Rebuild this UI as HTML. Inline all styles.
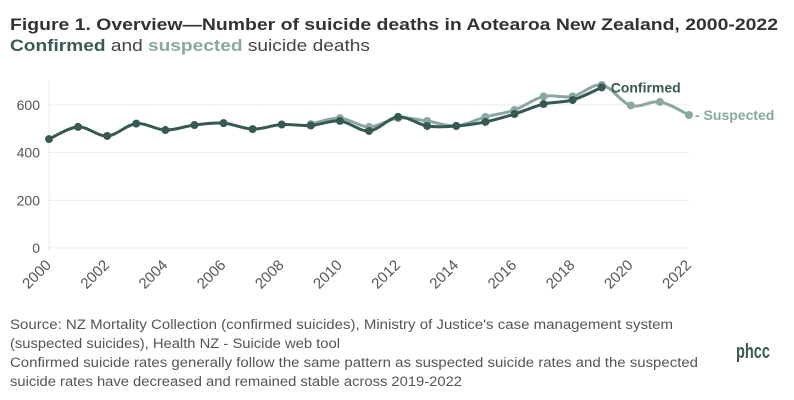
<!DOCTYPE html>
<html><head><meta charset="utf-8"><style>
html,body{margin:0;padding:0;background:#fff;}
svg{display:block;font-family:"Liberation Sans",sans-serif;}
</style></head><body>
<svg id="chart" width="794" height="400" viewBox="0 0 794 400" xmlns="http://www.w3.org/2000/svg">
<text x="10" y="30" font-size="17" font-weight="bold" fill="#333" textLength="768" lengthAdjust="spacingAndGlyphs">Figure 1. Overview—Number of suicide deaths in Aotearoa New Zealand, 2000-2022</text>
<text x="10" y="51" font-size="17" fill="#444" textLength="360" lengthAdjust="spacingAndGlyphs"><tspan font-weight="bold" fill="#3a5a55">Confirmed</tspan> and <tspan font-weight="bold" fill="#8aa8a2">suspected</tspan> suicide deaths</text>
<g id="grid"></g><g id="axes"></g><g id="series"></g>
<g font-size="13.5" fill="#555">
<text x="10" y="329" textLength="663" lengthAdjust="spacingAndGlyphs">Source: NZ Mortality Collection (confirmed suicides), Ministry of Justice's case management system</text>
<text x="10" y="348" textLength="330" lengthAdjust="spacingAndGlyphs">(suspected suicides), Health NZ - Suicide web tool</text>
<text x="10" y="367" textLength="688" lengthAdjust="spacingAndGlyphs">Confirmed suicide rates generally follow the same pattern as suspected suicide rates and the suspected</text>
<text x="10" y="386" textLength="452" lengthAdjust="spacingAndGlyphs">suicide rates have decreased and remained stable across 2019-2022</text>
</g>
<text x="736" y="358" font-size="20" font-weight="bold" fill="#3a5a55" textLength="34" lengthAdjust="spacingAndGlyphs">phcc</text>
</svg>
<script>
const years=[2000,2001,2002,2003,2004,2005,2006,2007,2008,2009,2010,2011,2012,2013,2014,2015,2016,2017,2018,2019,2020,2021,2022];
const confirmed=[457,508,470,522,495,516,524,499,518,514,533,491,550,512,512,529,562,604,621,674,null,null,null];
const suspected=[null,null,null,null,null,null,null,null,null,520,545,508,545,533,512,550,579,636,636,684,598,613,558];
const yTicks=[0,200,400,600];
const xTicks=[2000,2002,2004,2006,2008,2010,2012,2014,2016,2018,2020,2022];
const NS="http://www.w3.org/2000/svg";
const x=v=>49+(v-2000)*(640/22);
const y=v=>248-v*(143/600);
function mk(tag,attrs,parent){const e=document.createElementNS(NS,tag);for(const k in attrs)e.setAttribute(k,attrs[k]);parent.appendChild(e);return e;}
const grid=document.getElementById('grid'),axes=document.getElementById('axes'),series=document.getElementById('series');
yTicks.forEach(t=>{
 const l=mk('line',{x1:49,x2:689,y1:y(t),y2:y(t),stroke:'#ebebeb','stroke-width':1},grid);
 
 
 const tx=mk('text',{x:40,y:y(t)+5,'text-anchor':'end','font-size':14,fill:'#555'},axes);
 tx.textContent=t;
 
 
});
const yl=mk('line',{x1:49,x2:49,y1:80,y2:252,stroke:'#ebebeb'},grid);


xTicks.forEach(t=>{
 const tx=mk('text',{x:0,y:0,'text-anchor':'end','font-size':15,fill:'#555',transform:`translate(${x(t)+3},${266}) rotate(-45)`},axes);
 tx.textContent=t;
 
 
});
function path(pts){let d=`M${pts[0][0]},${pts[0][1]}`;for(let i=0;i<pts.length-1;i++){const p0=pts[i-1]||pts[i],p1=pts[i],p2=pts[i+1],p3=pts[i+2]||p2;const t=0.5/3;d+=` C${p1[0]+(p2[0]-p0[0])*t},${p1[1]+(p2[1]-p0[1])*t} ${p2[0]-(p3[0]-p1[0])*t},${p2[1]-(p3[1]-p1[1])*t} ${p2[0]},${p2[1]}`;}return d;}
function draw(vals,color,name){
 const pts=[];vals.forEach((v,i)=>{if(v!=null)pts.push([x(years[i]),y(v)]);});
 const p=mk('path',{d:path(pts),fill:'none',stroke:color,'stroke-width':3},series);
 
 
 vals.forEach((v,i)=>{if(v==null)return;
  const c=mk('circle',{cx:x(years[i]),cy:y(v),r:4,fill:color},series);
  
  });
 return pts[pts.length-1];
}
const ps=draw(suspected,'#8aa8a2','suspected');
const pc=draw(confirmed,'#365954','confirmed');
const lc=mk('text',{x:pc[0]+9,y:pc[1]+5,'font-size':14,'font-weight':'bold',fill:'#365954'},series);
lc.textContent='Confirmed';


const ls=mk('text',{x:ps[0]+6,y:ps[1]+5,'font-size':14,'font-weight':'bold',fill:'#8aa8a2'},series);
ls.textContent='- Suspected';


</script>
</body></html>
